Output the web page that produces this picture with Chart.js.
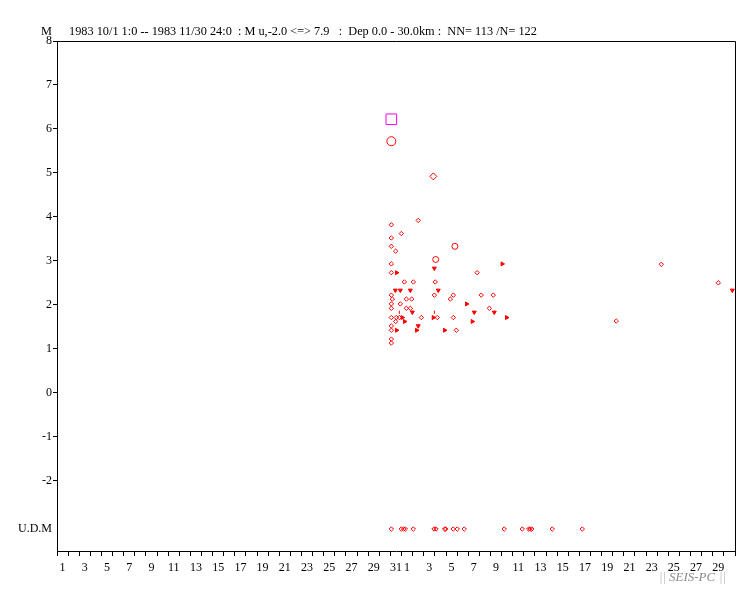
<!DOCTYPE html>
<html>
<head>
<meta charset="utf-8">
<script src="https://cdn.jsdelivr.net/npm/chart.js@4.4.0/dist/chart.umd.min.js"></script>
<style>body{margin:0;background:#fff}</style>
</head>
<body>
<canvas id="myChart" width="751" height="593"></canvas>
<script>
// time = days since 1983 10/1 0:00, mag = M
const dmT = [32.5,30.08,30.98,30.08,30.08,30.47,30.08,30.08,37.8,31.25,32.06,34.03,30.08,33.95,35.66,38.17,39.25,30.17,31.43,31.91,35.39,30.08,30.89,30.08,31.43,31.79,38.9,30.08,30.53,30.8,32.78,34.21,35.66,30.47,30.08,30.08,35.93,30.08,30.08,54.37,59.5,50.32]
const dmM = [3.92,3.82,3.62,3.52,3.33,3.22,2.93,2.73,2.73,2.52,2.52,2.52,2.22,2.22,2.22,2.22,2.22,2.13,2.13,2.13,2.13,2.02,2.02,1.92,1.92,1.92,1.92,1.71,1.71,1.71,1.71,1.71,1.71,1.62,1.52,1.42,1.42,1.22,1.13,2.92,2.5,1.63]

const tdT = [33.95,30.44,30.89,31.79,34.3,31.97,37.54,39.34,32.5,60.76]
const tdM = [2.83,2.33,2.33,2.33,2.33,1.83,1.83,1.83,1.52,2.33]

const trT = [40.06,30.56,36.86,31.07,33.86,40.46,31.28,37.37,30.56,32.36,34.88]
const trM = [2.93,2.73,2.02,1.71,1.71,1.71,1.62,1.62,1.42,1.42,1.42]

const lnT = [30.8,33.95]
const lnM = [1.83,1.83]

const ciT = [35.8,34.07]
const ciM = [3.33,3.03]

const bigCircleT = [30.08], bigCircleM = [5.72]
const bigDiamondT = [33.86], bigDiamondM = [4.92]
const squareT = [30.08], squareM = [6.22]

// undetermined magnitude events
const udmT = [30.08,30.98,31.19,31.34,32.06,33.92,34.1,34.88,34.97,35.65,36.01,36.64,40.24,41.86,42.44,42.56,42.71,44.56,47.26]
const UDM = -3.1

const yTicks = [UDM,-2,-1,0,1,2,3,4,5,6,7,8]
const xTickPos = [0.5,2.5,4.5,6.5,8.5,10.5,12.5,14.5,16.5,18.5,20.5,22.5,24.5,26.5,28.5,30.5,31.5,33.5,35.5,37.5,39.5,41.5,43.5,45.5,47.5,49.5,51.5,53.5,55.5,57.5,59.5]
const xTickLabels = ['1','3','5','7','9','11','13','15','17','19','21','23','25','27','29','31','1','3','5','7','9','11','13','15','17','19','21','23','25','27','29']

const header = '1983 10/1 1:0 -- 1983 11/30 24:0  : M u,-2.0 <=> 7.9   :  Dep 0.0 - 30.0km :  NN= 113 /N= 122'

const RED = '#ff0000'

function pts(T, M){
    return T.map((t, i) => ({x: t, y: M[i]}))
}

function ds(data, style, radius, rot, fill, color){
    return {
        data: data,
        pointStyle: style,
        radius: radius,
        rotation: rot,
        borderColor: color || RED,
        backgroundColor: fill ? (color || RED) : 'rgba(0,0,0,0)',
        borderWidth: 1,
        showLine: false
    }
}

const framePlugin = {
    id: 'frame',
    afterDraw(chart){
        const c = chart.ctx, a = chart.chartArea
        c.save()
        c.strokeStyle = '#000'
        c.lineWidth = 1
        c.beginPath()
        c.moveTo(a.left, a.top + 0.5)
        c.lineTo(a.right + 0.5, a.top + 0.5)
        c.lineTo(a.right + 0.5, a.bottom)
        c.stroke()
        c.fillStyle = '#000'
        c.font = '12.3px "Liberation Serif"'
        c.textBaseline = 'middle'
        c.fillText('M', 41, 32)
        c.fillText(header, 69, 32)
        c.font = 'italic 13px "Liberation Serif"'
        c.fillStyle = '#b4bccb'
        c.fillText('||', 659, 578)
        c.fillText('||', 719, 578)
        c.fillStyle = '#8a8a8a'
        c.fillText('SEIS-PC', 669, 578)
        c.restore()
    }
}

const ctx = document.getElementById('myChart').getContext('2d')

const myChart = new Chart(ctx, {
    type: 'scatter',
    data: {
        datasets: [
            ds(pts(dmT, dmM), 'rectRot', 2.2, 0, false),
            ds(pts(tdT, tdM), 'triangle', 2.3, 180, true),
            ds(pts(trT, trM), 'triangle', 2.3, 90, true),
            ds(pts(lnT, lnM), 'line', 1.6, 90, false),
            ds(pts(ciT, ciM), 'circle', 3, 0, false),
            ds(pts(bigCircleT, bigCircleM), 'circle', 4.5, 0, false),
            ds(pts(bigDiamondT, bigDiamondM), 'rectRot', 3.5, 0, false),
            ds(pts(squareT, squareM), 'rect', 7.5, 0, false, '#ff00ff'),
            ds(udmT.map(t => ({x: t, y: UDM})), 'rectRot', 2.2, 0, false)
        ]
    },
    options: {
        responsive: false,
        animation: false,
        layout: {padding: {left: 0, right: 16, top: 41, bottom: 16}},
        plugins: {legend: {display: false}, tooltip: {enabled: false}},
        scales: {
            x: {
                type: 'linear', position: 'bottom', min: 0, max: 61, weight: 0,
                afterBuildTicks: (s) => { s.ticks = Array.from({length: 62}, (_, i) => ({value: i})) },
                afterFit: (s) => { s.height = 6 },
                grid: {drawOnChartArea: false, tickLength: 5, color: '#000'},
                border: {color: '#000', width: 1},
                ticks: {display: false}
            },
            xl: {
                type: 'linear', position: 'bottom', min: 0, max: 61, weight: 1,
                afterBuildTicks: (s) => { s.ticks = xTickPos.map(v => ({value: v})) },
                afterFit: (s) => { s.height = 20 },
                grid: {display: false, drawTicks: false},
                border: {display: false},
                ticks: {
                    autoSkip: false, maxRotation: 0, padding: 4, color: '#000',
                    font: {family: 'Liberation Serif', size: 12},
                    callback: (v, i) => xTickLabels[i]
                }
            },
            y: {
                type: 'linear', min: -3.6, max: 8,
                afterBuildTicks: (s) => { s.ticks = yTicks.map(v => ({value: v})) },
                afterFit: (s) => { s.width = 57 },
                grid: {
                    drawOnChartArea: false, tickLength: 4,
                    tickColor: (c) => c.tick && c.tick.value === UDM ? 'rgba(0,0,0,0)' : '#000'
                },
                border: {color: '#000', width: 1},
                ticks: {
                    padding: 1, color: '#000',
                    font: {family: 'Liberation Serif', size: 12},
                    callback: (v) => v === UDM ? 'U.D.M' : String(v)
                }
            }
        }
    },
    plugins: [framePlugin]
})
</script>
</body>
</html>
